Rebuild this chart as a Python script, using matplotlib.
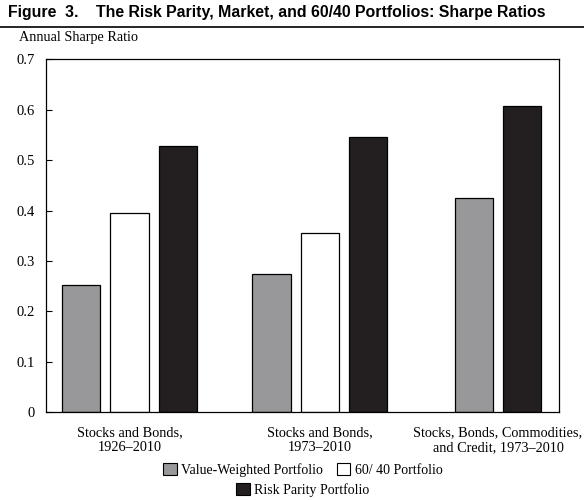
import matplotlib
matplotlib.use("Agg")
import matplotlib.pyplot as plt
from matplotlib.patches import Patch

# Data
groups = ["Stocks and Bonds,\n1926\u20132010",
          "Stocks and Bonds,\n1973\u20132010",
          "Stocks, Bonds, Commodities,\nand Credit, 1973\u20132010"]
value_weighted = [0.252, 0.274, 0.424]
sixty_forty = [0.396, 0.356, None]
risk_parity = [0.529, 0.546, 0.607]
yticks = [0, 0.1, 0.2, 0.3, 0.4, 0.5, 0.6, 0.7]
ytick_labels = ["0", "0.1", "0.2", "0.3", "0.4", "0.5", "0.6", "0.7"]

# Layout
group_centers = [1.73, 5.67, 9.36]
bar_w = 0.79
GRAY = "#98989b"
BLACK = "#231f20"
SERIF = "Liberation Serif"

fig = plt.figure(figsize=(5.84, 5.0), dpi=100)
ax = fig.add_axes([0.0788, 0.1754, 0.8789, 0.7060])

for i, c in enumerate(group_centers):
    series = [(value_weighted[i], GRAY), (sixty_forty[i], "white"), (risk_parity[i], BLACK)]
    series = [s for s in series if s[0] is not None]
    n = len(series)
    for j, (v, col) in enumerate(series):
        x = c + (j - (n - 1) / 2)
        ax.bar(x, v, width=bar_w, color=col, edgecolor="black", linewidth=0.9)

ax.set_xlim(0, 10.63)
ax.set_ylim(0, 0.7)
ax.set_yticks(yticks)
ax.set_yticklabels(ytick_labels, fontfamily=SERIF, fontsize=10.5)
ax.tick_params(axis="y", direction="in", length=4, width=0.8, pad=8)
ax.set_xticks(group_centers)
ax.set_xticklabels(groups, fontfamily=SERIF, fontsize=10.3, linespacing=1.15)
ax.tick_params(axis="x", length=0, pad=10)
for sp in ax.spines.values():
    sp.set_linewidth(0.9)

fig.text(0.033, 0.926, "Annual Sharpe Ratio", fontfamily=SERIF, fontsize=10.3,
         va="center", ha="left")

# Title and rule
fig.text(0.013, 0.974, "Figure  3.    The Risk Parity, Market, and 60/40 Portfolios: Sharpe Ratios",
         fontfamily="Liberation Sans", fontweight="bold", fontsize=11.4,
         va="center", ha="left")
fig.add_artist(plt.Line2D([0, 1], [0.946, 0.946], color="black", linewidth=1.2))

# Legends
h1 = [Patch(facecolor=GRAY, edgecolor="black", linewidth=0.8, label="Value-Weighted Portfolio"),
      Patch(facecolor="white", edgecolor="black", linewidth=0.8, label="60/ 40 Portfolio")]
h2 = [Patch(facecolor=BLACK, edgecolor="black", linewidth=0.8, label="Risk Parity Portfolio")]
leg_kw = dict(frameon=False, handlelength=1.0, handleheight=1.0, handletextpad=0.3,
              columnspacing=1.0, prop={"family": SERIF, "size": 10}, borderpad=0,
              borderaxespad=0, loc="center")
fig.legend(handles=h1, ncol=2, bbox_to_anchor=(0.518, 0.06), **leg_kw)
fig.legend(handles=h2, ncol=1, bbox_to_anchor=(0.518, 0.02), **leg_kw)

fig.savefig("out.png", dpi=100)
